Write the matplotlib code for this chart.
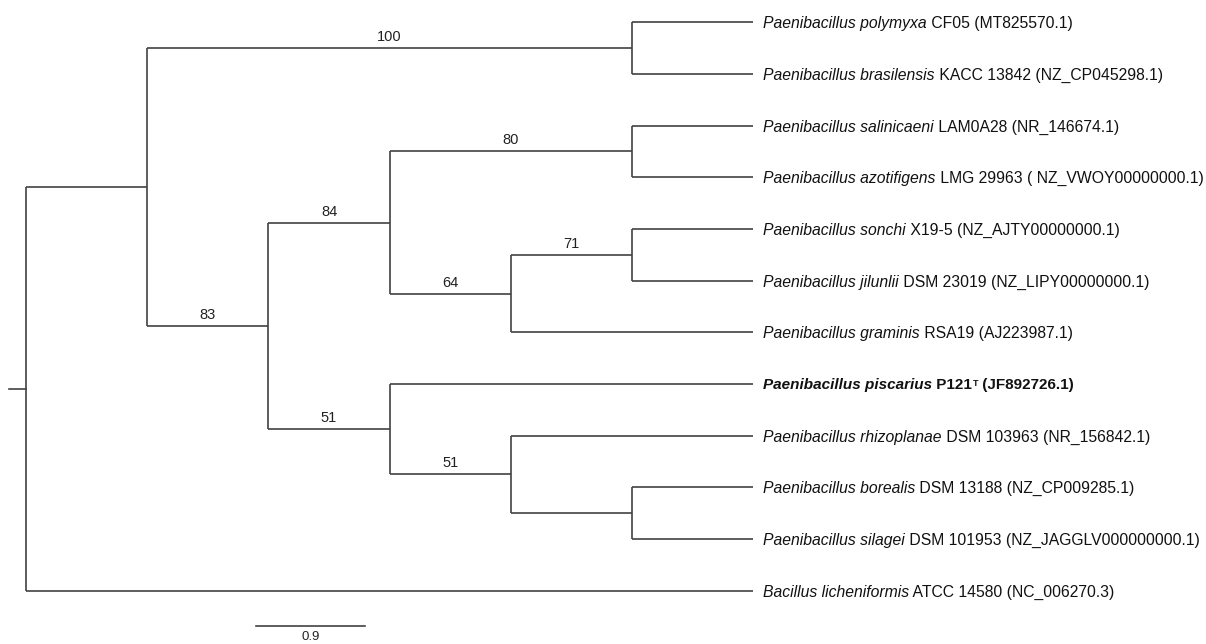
import matplotlib
matplotlib.use("Agg")
import matplotlib.pyplot as plt

# tip labels, top to bottom: italic species name, then strain and accession
species = [
    "Paenibacillus polymyxa",
    "Paenibacillus brasilensis",
    "Paenibacillus salinicaeni",
    "Paenibacillus azotifigens",
    "Paenibacillus sonchi",
    "Paenibacillus jilunlii",
    "Paenibacillus graminis",
    "Paenibacillus piscarius",
    "Paenibacillus rhizoplanae",
    "Paenibacillus borealis",
    "Paenibacillus silagei",
    "Bacillus licheniformis",
]
strains = [
    " CF05 (MT825570.1)",
    " KACC 13842 (NZ_CP045298.1)",
    " LAM0A28 (NR_146674.1)",
    " LMG 29963 ( NZ_VWOY00000000.1)",
    " X19-5 (NZ_AJTY00000000.1)",
    " DSM 23019 (NZ_LIPY00000000.1)",
    " RSA19 (AJ223987.1)",
    " P121",
    " DSM 103963 (NR_156842.1)",
    " DSM 13188 (NZ_CP009285.1)",
    " DSM 101953 (NZ_JAGGLV000000000.1)",
    " ATCC 14580 (NC_006270.3)",
]
highlight = 7          # the new strain, shown in bold
highlight_tail = " (JF892726.1)"

# topology with bootstrap values (tips t0..t11 in the order above)
newick = "(((t0,t1)100,(((t2,t3)80,((t4,t5)71,t6)64)84,(t7,(t8,(t9,t10))51)51)83),t11);"
scale_len = 0.9


def parse(s, i=0):
    # returns (node, next index); node = dict(kids, sup, tip)
    if s[i] == "(":
        kids = []
        i += 1
        while True:
            k, i = parse(s, i)
            kids.append(k)
            if s[i] == ",":
                i += 1
                continue
            i += 1  # ')'
            break
        lab = ""
        while i < len(s) and s[i] not in ",();":
            lab += s[i]
            i += 1
        return {"kids": kids, "sup": lab, "tip": None}, i
    lab = ""
    while s[i] not in ",();":
        lab += s[i]
        i += 1
    return {"kids": [], "sup": "", "tip": int(lab[1:])}, i


root, _ = parse(newick)


def height(n):
    if not n["kids"]:
        return 0
    return 1 + max(height(k) for k in n["kids"])


depth = height(root)


def layout(n):
    n["x"] = depth - height(n)
    if not n["kids"]:
        n["y"] = n["tip"]
    else:
        for k in n["kids"]:
            layout(k)
        n["y"] = (n["kids"][0]["y"] + n["kids"][-1]["y"]) / 2


layout(root)

fig = plt.figure(figsize=(12.06, 6.44), dpi=100)
ax = fig.add_axes([0, 0, 1, 1])
ax.set_xlim(-26 / 121.2, (1206 - 26) / 121.2)
ax.set_ylim((644 - 22.3) / 51.67, -22.3 / 51.67)
ax.axis("off")

lc = "#424242"
lw = 1.2
boot_font = ["Liberation Sans Narrow", "Liberation Sans"]
fs = 11.35


def draw(n):
    if n["kids"]:
        ys = [k["y"] for k in n["kids"]]
        ax.plot([n["x"], n["x"]], [min(ys), max(ys)], color=lc, lw=lw, solid_capstyle="butt")
        for k in n["kids"]:
            ax.plot([n["x"], k["x"]], [k["y"], k["y"]], color=lc, lw=lw, solid_capstyle="butt")
            if k["sup"]:
                ax.annotate(k["sup"], xy=((n["x"] + k["x"]) / 2, k["y"]),
                            xytext=(0, 4), textcoords="offset pixels",
                            ha="center", va="bottom", fontsize=10.5,
                            family=boot_font, color="#222222")
            draw(k)


draw(root)
# root stub
ax.plot([-0.14, 0], [root["y"], root["y"]], color=lc, lw=lw)

# tip labels
for i in range(len(species)):
    w = "bold" if i == highlight else "normal"
    size = 11 if i == highlight else fs
    t = ax.annotate(species[i], xy=(depth, i), xytext=(10, 0), textcoords="offset pixels",
                    va="center_baseline", ha="left", fontsize=size, style="italic",
                    weight=w, family="Liberation Sans", color="#111111")
    t = ax.annotate(strains[i], xy=(1, 0), xycoords=t, va="bottom", ha="left",
                    fontsize=size, weight=w, family="Liberation Sans", color="#111111")
    if i == highlight:
        sup = ax.annotate("T", xy=(1, 1), xycoords=t, xytext=(0.5, -0.5), textcoords="offset pixels",
                          va="top", ha="left", fontsize=6.5, weight="bold",
                          family="Liberation Sans", color="#111111")
        ax.annotate(highlight_tail, xy=(1, 0), xycoords=(sup, t), va="bottom", ha="left",
                    fontsize=size, weight="bold", family="Liberation Sans", color="#111111")

# scale bar
sx = (256 - 26) / 121.2
sy = (625.7 - 22.3) / 51.67
ax.plot([sx, sx + scale_len], [sy, sy], color=lc, lw=lw)
ax.annotate(f"{scale_len}", xy=(sx + scale_len / 2, sy), xytext=(0, -5),
            textcoords="offset pixels", ha="center", va="top", fontsize=9.5,
            family="Liberation Sans", color="#222222")

fig.savefig("out.png", dpi=100)
